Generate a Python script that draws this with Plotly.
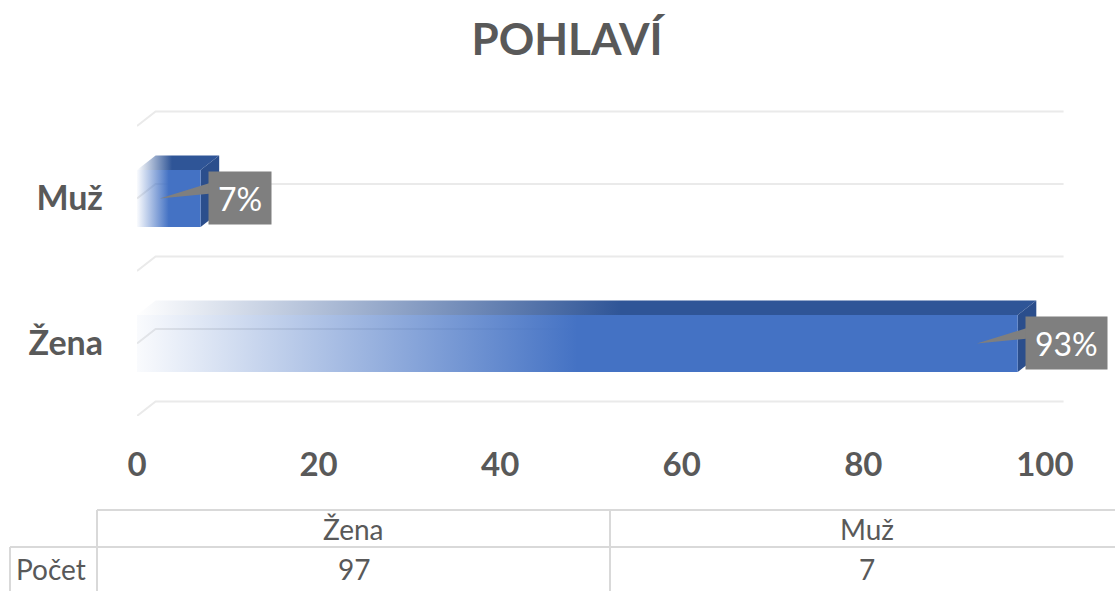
import plotly.graph_objects as go

# ---------------- data ----------------
title = "POHLAVÍ"
categories = ["Žena", "Muž"]
counts = [97, 7]
percent_labels = ["93%", "7%"]
x_ticks = [0, 20, 40, 60, 80, 100]
table_row_label = "Počet"

# ---------------- style ----------------
FONT = "Lato"
GREY = "#595959"
W, H = 1115, 591
ML, MR, MT, MB = 137, 51, 110, 175
X_MAX = 102.1
Y_MIN, Y_MAX = -0.5, 1.61
DX, DY = 2.05, 0.10      # 3D depth (data units)
HALF = 0.197             # half bar thickness (category units)

def xp(px):
    return (px - ML) / (W - ML - MR)

def yp(py):
    return (H - MB - py) / (H - MT - MB)

fig = go.Figure()
ypos = list(range(len(categories)))

# back-wall gridlines (category boundaries and centres)
grid_levels = [i * 0.5 - 0.5 for i in range(2 * len(categories) + 1)]
for g in grid_levels:
    fig.add_trace(go.Scatter(
        x=[0, DX, x_ticks[-1] + DX], y=[g, g + DY, g + DY], mode="lines",
        line=dict(color="#EAEAEA", width=2), hoverinfo="skip", showlegend=False))

# 3D bars
for y, v in zip(ypos, counts):
    y0, y1 = y - HALF, y + HALF
    # top face
    fig.add_trace(go.Scatter(
        x=[0, v, v + DX, DX, 0], y=[y1, y1, y1 + DY, y1 + DY, y1],
        mode="lines", fill="toself", line=dict(width=0),
        fillgradient=dict(type="horizontal",
                          colorscale=[[0, "rgba(47,85,151,0)"], [1, "rgba(47,85,151,1)"]],
                          start=0, stop=v * 0.55),
        hoverinfo="skip", showlegend=False))
    # right face
    fig.add_trace(go.Scatter(
        x=[v, v + DX, v + DX, v, v], y=[y0, y0 + DY, y1 + DY, y1, y0],
        mode="lines", fill="toself", fillcolor="#2B4E8C", line=dict(width=0),
        hoverinfo="skip", showlegend=False))
    # front face
    fig.add_trace(go.Scatter(
        x=[0, v, v, 0, 0], y=[y0, y0, y1, y1, y0],
        mode="lines", fill="toself", line=dict(width=0),
        fillgradient=dict(type="horizontal",
                          colorscale=[[0, "rgba(68,114,196,0.03)"], [1, "rgba(68,114,196,1)"]],
                          start=0, stop=v * 0.5),
        hoverinfo="skip", showlegend=False))

# data-label callouts
for y, v, lab in zip(ypos, counts, percent_labels):
    fig.add_trace(go.Scatter(
        x=[v - 4.5, v + 1.2, v + 1.2, v - 4.5], y=[y, y + 0.11, y + 0.035, y],
        mode="lines", fill="toself", fillcolor="#7F7F7F", line=dict(width=0),
        hoverinfo="skip", showlegend=False))
    fig.add_annotation(
        x=v + 0.8, y=y, xref="x", yref="y", xanchor="left", yanchor="middle",
        text=lab, showarrow=False, bgcolor="#7F7F7F", borderpad=9, height=34,
        font=dict(color="white", size=32, family=FONT))

# ---------------- data table ----------------
LINE = dict(color="#D9D9D9", width=2)
col_edges = [97, 610, 1123]
row_top, row_mid, row_bot = 510, 547, 600
label_left = 10
shapes = [
    dict(type="line", xref="paper", yref="paper", x0=xp(col_edges[0]), x1=xp(W), y0=yp(row_top), y1=yp(row_top), line=LINE),
    dict(type="line", xref="paper", yref="paper", x0=xp(label_left), x1=xp(W), y0=yp(row_mid), y1=yp(row_mid), line=LINE),
    dict(type="line", xref="paper", yref="paper", x0=xp(label_left), x1=xp(label_left), y0=yp(row_mid), y1=yp(row_bot), line=LINE),
]
for ce in col_edges[:-1]:
    shapes.append(dict(type="line", xref="paper", yref="paper", x0=xp(ce), x1=xp(ce),
                       y0=yp(row_top), y1=yp(row_bot), line=LINE))

TFONT = dict(family=FONT, size=28, color=GREY)
for i, (cat, cnt) in enumerate(zip(categories, counts)):
    cx = (col_edges[i] + col_edges[i + 1]) / 2
    fig.add_annotation(x=xp(cx), y=yp((row_top + row_mid) / 2), xref="paper", yref="paper",
                       text=cat, showarrow=False, font=TFONT, xanchor="center", yanchor="middle")
    fig.add_annotation(x=xp(cx), y=yp((row_mid + 591) / 2), xref="paper", yref="paper",
                       text=str(cnt), showarrow=False, font=TFONT, xanchor="center", yanchor="middle")
fig.add_annotation(x=xp(label_left + 4), y=yp((row_mid + 591) / 2), xref="paper", yref="paper",
                   text=table_row_label, showarrow=False, font=TFONT, xanchor="left", yanchor="middle")

fig.update_layout(
    width=W, height=H,
    margin=dict(l=ML, r=MR, t=MT, b=MB),
    paper_bgcolor="white", plot_bgcolor="white",
    title=dict(text=f"<b>{title}</b>", x=567 / W, xref="container", xanchor="center",
               y=1 - 40 / H, yref="container", yanchor="middle",
               font=dict(family=FONT, size=44, color=GREY)),
    xaxis=dict(range=[0, X_MAX], tickvals=x_ticks, ticktext=[f"<b>{t}</b>" for t in x_ticks],
               showgrid=False, zeroline=False, showline=False, ticks="",
               ticklabelstandoff=26, tickfont=dict(family=FONT, size=33, color=GREY)),
    yaxis=dict(range=[Y_MIN, Y_MAX], tickvals=ypos, ticktext=[f"<b>{c}</b>" for c in categories],
               showgrid=False, zeroline=False, showline=False, ticks="",
               ticklabelstandoff=33, tickfont=dict(family=FONT, size=34, color=GREY)),
    shapes=shapes,
    showlegend=False,
)

fig.write_html("out.html",
               config={"displayModeBar": False},
               post_script="document.body.style.margin='0';document.body.style.padding='0';")
